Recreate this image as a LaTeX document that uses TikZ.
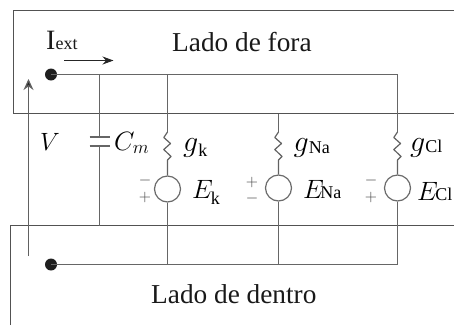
\documentclass[tikz,border=0pt]{standalone}
\usepackage{fix-cm}
\usepackage{fontspec}
\setmainfont{Liberation Serif}
\usetikzlibrary{arrows.meta}
\newcommand{\fsz}[1]{\fontsize{#1}{#1}\selectfont}
\newcommand{\subs}[3]{\kern#1pt\raisebox{#2pt}{\fsz{18}#3}}
\tikzset{
  wire/.style={draw=black!60,line width=1.2pt},
  membrane/.style={draw=black!68,line width=1.2pt},
  terminal/.style={circle,fill=black!88,inner sep=0pt,minimum size=12pt},
  source/.style={circle,draw=black!58,line width=1.2pt,fill=white,inner sep=0pt,minimum size=26pt},
  lbl/.style={anchor=base west,inner sep=0pt,text=black!90},
  mathlbl/.style={lbl,text=black,font=\fsz{26.5}},
  glbl/.style={lbl,text=black,font=\fsz{30}},
  sign/.style={anchor=center,inner sep=0pt,text=black!75,font=\fsz{16}},
  arr/.style={draw=black!85,line width=1pt,-{Stealth[length=11pt,width=8pt]}},
  zig/.style={draw=black!62,line width=1.2pt,line join=round}
}
\begin{document}
\begin{tikzpicture}[x=1pt,y=-1pt]
\useasboundingbox (0,0) rectangle (454,325);
\fill[white] (0,0) rectangle (454,325);
% membranes
\draw[membrane] (454,10.5) -- (13.5,10.5) -- (13.5,113.5) -- (454,113.5);
\draw[membrane] (10.5,325) -- (10.5,225.5) -- (454,225.5);
% terminals and rails
\node[terminal] (top) at (51,74.5) {};
\node[terminal] (bot) at (51,264.5) {};
\coordinate (tc) at (99.5,74.5);
\coordinate (tk) at (167.5,74.5);
\coordinate (tna) at (278.5,113.5);
\coordinate (tcl) at (397.5,74.5);
\coordinate (bk) at (167.5,264.5);
\coordinate (bna) at (278.5,264.5);
\coordinate (bcl) at (397.5,264.5);
\draw[wire] (top.center) -- (tcl);
\draw[wire] (bot.center) -- (bcl);
% capacitor
\coordinate (capa) at (99.5,137);
\coordinate (capb) at (99.5,146);
\coordinate (capend) at (99.5,225.5);
\draw[wire] (tc) -- (capa);
\draw[wire] (capb) -- (capend);
\draw[wire] (89.5,137) -- (109.5,137);
\draw[wire] (89.5,146) -- (109.5,146);
% sources
\node[source] (ek) at (167.5,189) {};
\node[source] (ena) at (278.5,188) {};
\node[source] (ecl) at (397.5,188) {};
\draw[wire] (ek) -- (bk);
\draw[wire] (ena) -- (bna);
\draw[wire] (ecl) -- (bcl);
% conductances
\coordinate (zk) at (167.5,132);
\coordinate (zna) at (278.5,132);
\coordinate (zcl) at (397.5,132);
\draw[wire] (tk) -- (zk);
\draw[wire] (tna) -- (zna);
\draw[wire] (tcl) -- (zcl);
\draw[zig] (zk) -- ++(-3.7,5.5) -- ++(6.7,6) -- ++(-6.7,6) -- ++(7.2,7) -- ++(-3.5,3.5) -- (ek.north);
\draw[zig] (zna) -- ++(-3.7,5.5) -- ++(6.7,6) -- ++(-6.7,6) -- ++(7.2,7) -- ++(-3.5,3.5) -- (ena.north);
\draw[zig] (zcl) -- ++(-3.7,5.5) -- ++(6.7,6) -- ++(-6.7,6) -- ++(7.2,7) -- ++(-3.5,3.5) -- (ecl.north);
% arrows
\coordinate (va) at (28.5,256);
\coordinate (vb) at (28.5,79);
\draw[draw=black!62,line width=1.2pt,-{Stealth[length=11pt,width=10pt,fill=black!85]}] (va) -- (vb);
\coordinate (ia) at (64,60.5);
\coordinate (ib) at (113.5,60.5);
\draw[arr] (ia) -- (ib);
% labels
\node[lbl,font=\fsz{27.3}] (fora) at (172,51) {Lado de fora};
\node[lbl,font=\fsz{27.3}] (dentro) at (151,303) {Lado de dentro};
\node[lbl,font=\fsz{28}] (iext) at (46,49) {I{\fsz{18}ext}};
\node[lbl,text=black,font=\fsz{25}] (v) at (40,150) {$V$};
\node[mathlbl] (cm) at (114,150) {$C_m$};
\node[glbl] (gk) at (183,151) {$g$\subs{0}{-5}{k}};
\node[glbl] (gna) at (293.5,151) {$g$\subs{0}{-2}{Na}};
\node[glbl] (gcl) at (410,151) {$g$\subs{0}{-1}{Cl}};
\node[mathlbl] (lek) at (192,198) {$E$\subs{-2}{-6}{k}};
\node[mathlbl] (lena) at (303,198) {$E$\subs{-3.5}{0}{Na}};
\node[mathlbl] (lecl) at (417,200) {$E$\subs{-2.5}{0}{Cl}};
% signs
\node[sign] (m1) at (145,180) {$-$};
\node[sign] (p1) at (145,197) {$+$};
\node[sign] (p2) at (252,182) {$+$};
\node[sign] (m2) at (252,198) {$-$};
\node[sign] (m3) at (371,180) {$-$};
\node[sign] (p3) at (371,197) {$+$};
\end{tikzpicture}
\end{document}
